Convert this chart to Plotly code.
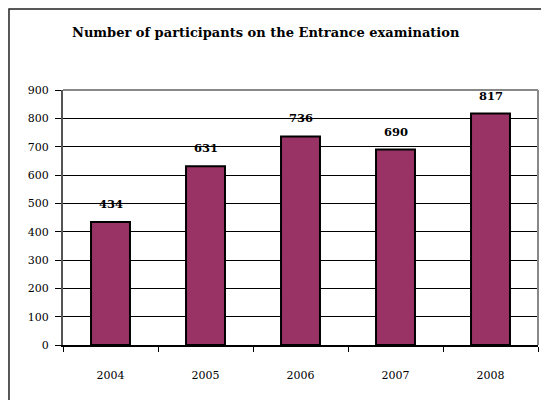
import plotly.graph_objects as go

years = ["2004", "2005", "2006", "2007", "2008"]
participants = [434, 631, 736, 690, 817]
y_ticks = [0, 100, 200, 300, 400, 500, 600, 700, 800, 900]
title_text = "Number of participants on the Entrance examination"

BAR_COLOR = "#993366"
FONT = "DejaVu Serif"

fig = go.Figure()
fig.add_trace(go.Bar(
    x=years, y=participants,
    marker=dict(color=BAR_COLOR, line=dict(color="black", width=2)),
    hoverinfo="skip",
))

for i, v in enumerate(participants):
    fig.add_annotation(x=i, y=v, text="<b>%d</b>" % v, showarrow=False,
                       yanchor="middle", yshift=18,
                       font=dict(family=FONT, size=11.5, color="black"))

fig.add_annotation(xref="paper", yref="paper", x=0.427, y=1.227,
                   text="<b>%s</b>" % title_text, showarrow=False,
                   xanchor="center", yanchor="middle",
                   font=dict(family=FONT, size=13, color="black"))

# outer chart border
fig.add_shape(type="rect", xref="paper", yref="paper",
              x0=-0.1137, x1=1.2, y0=-0.4, y1=1.318,
              line=dict(color="#222222", width=1.5), layer="below")
# plot area frame (top/right gray)
fig.add_shape(type="line", xref="paper", yref="paper", x0=0, x1=1, y0=1, y1=1,
              line=dict(color="#888888", width=2), layer="above")
fig.add_shape(type="line", xref="paper", yref="paper", x0=1, x1=1, y0=0, y1=1,
              line=dict(color="#888888", width=2), layer="above")

fig.update_layout(
    width=549, height=400,
    margin=dict(l=55, r=19, t=82, b=63),
    paper_bgcolor="white", plot_bgcolor="white",
    bargap=0.59, showlegend=False,
    font=dict(family=FONT, size=11, color="black"),
)
fig.update_xaxes(
    type="category", range=[-0.5, 4.5], tickson="boundaries", ticks="outside", ticklen=5,
    tickcolor="black", tickwidth=1, showgrid=False, tickangle=0,
    showline=True, linecolor="black", linewidth=1.5,
    ticklabelstandoff=19, tickfont=dict(family=FONT, size=11, color="black"),
)
fig.update_yaxes(
    range=[0, 900], tickvals=y_ticks, ticks="outside", ticklen=6,
    tickcolor="black", showgrid=True, gridcolor="black", gridwidth=1,
    showline=True, linecolor="#555555", linewidth=2, zeroline=False,
    ticklabelstandoff=4, tickfont=dict(family=FONT, size=11, color="black"),
)

fig.write_html("out.html")
